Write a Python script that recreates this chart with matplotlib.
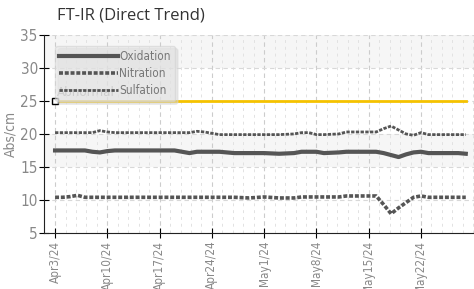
import numpy as np
import matplotlib
matplotlib.use("Agg")
import matplotlib.pyplot as plt
import matplotlib.dates as mdates

plt.rcParams['font.family'] = ['Liberation Sans Narrow', 'DejaVu Sans']
plt.rcParams['font.stretch'] = 'condensed'

# day offsets from Apr 3 2024
days = [0, 1, 2, 3, 4, 5, 6, 7, 8, 10, 12, 14, 16, 18, 19, 20, 22, 24, 26, 28,
        30, 32, 33, 34, 35, 36, 38, 39, 40, 42, 43, 44, 45, 46, 47, 48, 49, 50,
        52, 54, 55]
oxidation = [17.5, 17.5, 17.5, 17.5, 17.5, 17.3, 17.2, 17.4, 17.5, 17.5, 17.5,
             17.5, 17.5, 17.1, 17.3, 17.3, 17.3, 17.1, 17.1, 17.1, 17.0, 17.1,
             17.3, 17.3, 17.3, 17.1, 17.2, 17.3, 17.3, 17.3, 17.3, 17.1, 16.8,
             16.5, 16.9, 17.2, 17.3, 17.1, 17.1, 17.1, 17.0]
nitration = [10.4, 10.4, 10.5, 10.7, 10.4, 10.4, 10.4, 10.4, 10.4, 10.4, 10.4,
             10.4, 10.4, 10.4, 10.4, 10.4, 10.4, 10.4, 10.3, 10.45, 10.3, 10.3,
             10.45, 10.45, 10.45, 10.45, 10.45, 10.6, 10.6, 10.6, 10.6, 9.3, 7.9,
             8.8, 9.6, 10.4, 10.6, 10.4, 10.4, 10.4, 10.4]
sulfation = [20.2, 20.2, 20.2, 20.2, 20.2, 20.2, 20.5, 20.3, 20.2, 20.2, 20.2,
             20.2, 20.2, 20.2, 20.4, 20.3, 19.9, 19.9, 19.9, 19.9, 19.9, 20.0,
             20.2, 20.2, 19.9, 19.9, 20.0, 20.3, 20.3, 20.3, 20.3, 20.8, 21.2,
             20.6, 20.0, 19.8, 20.2, 19.9, 19.9, 19.9, 19.9]
abnormal = 25

tick_labels = ["Apr3/24", "Apr10/24", "Apr17/24", "Apr24/24", "May1/24",
               "May8/24", "May15/24", "May22/24"]

start = np.datetime64('2024-04-03')
dates = start + np.array(days).astype('timedelta64[D]')
x = mdates.date2num(dates)
x0 = mdates.date2num(start)

fig = plt.figure(figsize=(4.74, 2.89), dpi=100)
ax = fig.add_axes([0.093, 0.194, 0.907, 0.685])

# background bands
for lo, hi in [(30, 35), (15, 20)]:
    ax.axhspan(lo, hi, color='#f6f6f6', zorder=0, lw=0)

grey = '#555555'
ax.plot(x, oxidation, color=grey, lw=3, label='Oxidation', zorder=3)
ax.plot(x, nitration, color=grey, lw=2.6, ls=(0, (1.1, 0.5)), label='Nitration', zorder=3)
ax.plot(x, sulfation, color=grey, lw=2.0, ls=(0, (1.2, 0.5)), label='Sulfation', zorder=3)

ax.plot([x[0], x[-1]], [abnormal, abnormal], color='#f5c200', lw=2, zorder=2,
        marker='s', markevery=[0], ms=4, mfc='white', mec='black', mew=1)
ax.text(x[0] + 0.3, abnormal + 0.3, 'Abnormal', color='#888888', fontsize=9.5,
        va='bottom', ha='left', zorder=1)

ax.set_xlim(x0 - 1.47, x0 + 56.1)
ax.set_ylim(5, 35)
ax.set_yticks([5, 10, 15, 20, 25, 30, 35])

major = [x0 + 7 * i for i in range(len(tick_labels))]
ax.set_xticks(major)
ax.set_xticklabels(tick_labels, rotation=90, color='#888888', fontsize=8.5)
ax.set_xticks([x0 + 1.4 * i for i in range(41)], minor=True)
ax.tick_params(axis='x', which='minor', length=0)
ax.tick_params(axis='x', which='major', direction='inout', length=7, color='black', pad=2)
ax.tick_params(axis='y', direction='inout', length=7, colors='#888888', labelsize=11, pad=1)
ax.tick_params(axis='y', color='black')

ax.grid(axis='y', which='major', ls=(0, (4, 3)), color='#d8d8d8', lw=0.8, zorder=1)
ax.grid(axis='x', which='major', ls=(0, (4, 3)), color='#cccccc', lw=0.8, zorder=1)
ax.grid(axis='x', which='minor', ls=(0, (3, 4)), color='#e2e2e2', lw=0.7, zorder=1)

for s in ['top', 'right']:
    ax.spines[s].set_visible(False)
ax.spines['left'].set_color('#222222')
ax.spines['bottom'].set_color('#222222')
ax.set_facecolor('white')

ax.set_ylabel('Abs/cm', color='#888888', fontsize=10, labelpad=2)

leg = ax.legend(loc='upper left', bbox_to_anchor=(0.012, 0.975), fontsize=8.5,
                handlelength=5.0, handletextpad=0.1, labelspacing=0.35,
                borderpad=0.35, fancybox=True,
                shadow={'color': '#d5d5d5', 'alpha': 0.5},
                framealpha=0.55, facecolor='#e6e6e6', edgecolor='#d0d0d0')
for t in leg.get_texts():
    t.set_color('#777777')

fig.text(0.12, 0.945, 'FT-IR (Direct Trend)', fontsize=12, color='#333333',
         family=['Open Sans', 'DejaVu Sans'], stretch='normal', va='center')

fig.savefig('out.png', dpi=100)
